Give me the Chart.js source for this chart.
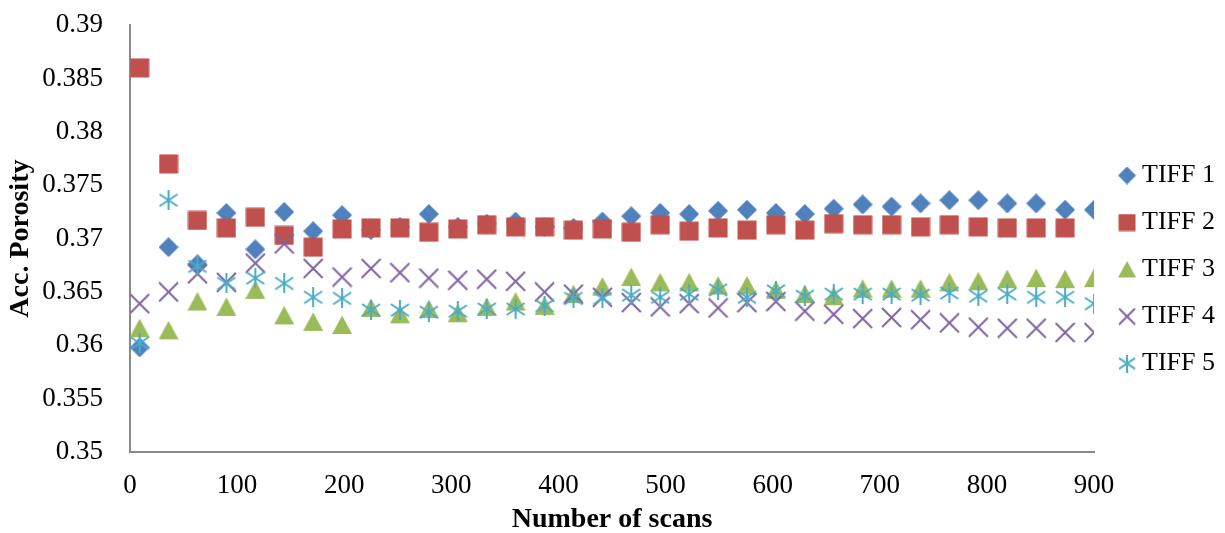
<!DOCTYPE html>
<html>
<head>
<meta charset="utf-8">
<script src="https://cdn.jsdelivr.net/npm/chart.js@4.4.0/dist/chart.umd.min.js"></script>
<style>
  html, body { margin: 0; padding: 0; background: #fff; }
</style>
</head>
<body>
<canvas id="porosityChart" width="1225" height="533"></canvas>
<script>
// Number of scans (x values)
const scans = [9, 36, 63, 90, 117, 144, 171, 198, 225, 252, 279, 306, 333, 360, 387, 414, 441,
               468, 495, 522, 549, 576, 603, 630, 657, 684, 711, 738, 765, 792, 819, 846, 873, 900];

// Accumulated porosity per TIFF stack
const tiff1 = [0.3598, 0.3692, 0.3676, 0.3724, 0.3690, 0.3725, 0.3707, 0.3722, 0.3708, 0.3711, 0.3723, 0.3711,
               0.3714, 0.3716, 0.3711, 0.3710, 0.3716, 0.3721, 0.3724, 0.3723, 0.3726, 0.3727, 0.3724, 0.3723,
               0.3728, 0.3732, 0.3730, 0.3733, 0.3736, 0.3736, 0.3733, 0.3733, 0.3727, 0.3727];
const tiff2 = [0.3860, 0.3770, 0.3717, 0.3710, 0.3720, 0.3703, 0.3692, 0.3709, 0.3710, 0.3710, 0.3706, 0.3709,
               0.3713, 0.3711, 0.3711, 0.3708, 0.3709, 0.3706, 0.3713, 0.3707, 0.3710, 0.3708, 0.3713, 0.3708,
               0.3714, 0.3713, 0.3713, 0.3711, 0.3713, 0.3711, 0.3710, 0.3710, 0.3710, null];
const tiff3 = [0.3616, 0.3614, 0.3641, 0.3636, 0.3652, 0.3628, 0.3622, 0.3619, 0.3635, 0.3629, 0.3634, 0.3630,
               0.3636, 0.3641, 0.3637, 0.3648, 0.3655, 0.3664, 0.3659, 0.3659, 0.3656, 0.3656, 0.3652, 0.3648,
               0.3646, 0.3653, 0.3653, 0.3653, 0.3659, 0.3660, 0.3662, 0.3663, 0.3662, 0.3663];
const tiff4 = [0.3639, 0.3650, 0.3667, 0.3659, 0.3677, 0.3695, 0.3672, 0.3664, 0.3672, 0.3668, 0.3663, 0.3661,
               0.3662, 0.3660, 0.3650, 0.3648, 0.3645, 0.3640, 0.3636, 0.3639, 0.3635, 0.3640, 0.3641, 0.3632,
               0.3629, 0.3625, 0.3626, 0.3624, 0.3621, 0.3617, 0.3616, 0.3616, 0.3612, 0.3612];
const tiff5 = [0.3602, 0.3736, 0.3674, 0.3658, 0.3663, 0.3658, 0.3645, 0.3644, 0.3633, 0.3633, 0.3631, 0.3632,
               0.3634, 0.3634, 0.3637, 0.3644, 0.3644, 0.3647, 0.3645, 0.3648, 0.3652, 0.3645, 0.3651, 0.3646,
               0.3648, 0.3648, 0.3648, 0.3647, 0.3649, 0.3646, 0.3648, 0.3645, 0.3645, 0.3639];

const seriesNames = ['TIFF 1', 'TIFF 2', 'TIFF 3', 'TIFF 4', 'TIFF 5'];
const seriesValues = [tiff1, tiff2, tiff3, tiff4, tiff5];
const seriesColors = ['#4F81BD', '#C0504D', '#9BBB59', '#8064A2', '#4BACC6'];
const seriesShapes = ['diamond', 'square', 'triangle', 'cross', 'asterisk'];

const yTicks = [0.35, 0.355, 0.36, 0.365, 0.37, 0.375, 0.38, 0.385, 0.39];

// small canvas sprites for the Excel style markers
// shift moves the shape right inside a wider sprite (used for the legend)
function makeMarker(shape, color, size, shift) {
    shift = shift || 0;
    const c = document.createElement('canvas');
    c.width = size + 2 * shift;
    c.height = size;
    const g = c.getContext('2d');
    g.translate(2 * shift, 0);
    const s = size, h = size / 2;
    g.fillStyle = color;
    g.strokeStyle = color;
    g.lineWidth = 2;
    g.beginPath();
    if (shape === 'diamond') {
        g.moveTo(h, 0); g.lineTo(s, h); g.lineTo(h, s); g.lineTo(0, h);
        g.closePath(); g.fill();
    } else if (shape === 'square') {
        g.fillRect(0.5, 0.5, s - 1, s - 1);
    } else if (shape === 'triangle') {
        g.moveTo(h, 0.5); g.lineTo(s, s - 1); g.lineTo(0, s - 1);
        g.closePath(); g.fill();
    } else if (shape === 'cross') {
        g.moveTo(1, 1); g.lineTo(s - 1, s - 1);
        g.moveTo(s - 1, 1); g.lineTo(1, s - 1);
        g.stroke();
    } else {
        g.moveTo(h, 0); g.lineTo(h, s);
        g.moveTo(1, s * 0.2); g.lineTo(s - 1, s * 0.8);
        g.moveTo(1, s * 0.8); g.lineTo(s - 1, s * 0.2);
        g.stroke();
    }
    return c;
}

const dataMarkers = seriesShapes.map((sh, i) => makeMarker(sh, seriesColors[i], sh === 'cross' ? 21 : 20));
const legendMarkers = seriesShapes.map((sh, i) => makeMarker(sh, seriesColors[i], 18, 5));

const datasets = seriesNames.map((name, i) => ({
    label: name,
    data: scans.map((x, j) => ({ x: x, y: seriesValues[i][j] })).filter(p => p.y !== null),
    pointStyle: dataMarkers[i],
    backgroundColor: seriesColors[i],
    borderColor: seriesColors[i],
    showLine: false,
    order: 5 - i // later series drawn on top, like Excel
}));

const serif = "'Liberation Serif', 'Times New Roman', serif";

const ctx = document.getElementById('porosityChart').getContext('2d');
const porosityChart = new Chart(ctx, {
    type: 'scatter',
    data: { datasets: datasets },
    options: {
        responsive: false,
        animation: false,
        layout: {
            padding: { top: 6, right: 0, bottom: 0, left: 0 }
        },
        scales: {
            x: {
                type: 'linear',
                min: 0,
                max: 900,
                ticks: {
                    stepSize: 100,
                    color: '#000',
                    font: { family: serif, size: 27 },
                    padding: 18,
                    maxRotation: 0
                },
                grid: { display: false, drawTicks: false },
                border: { display: true, color: '#8a8a8a', width: 2 },
                title: {
                    display: true,
                    text: 'Number of scans',
                    color: '#000',
                    font: { family: serif, size: 28, weight: 'bold' },
                    padding: { top: 0, bottom: -4 }
                },
                afterFit: scale => { scale.height = 81; }
            },
            y: {
                min: 0.35,
                max: 0.39,
                afterBuildTicks: scale => { scale.ticks = yTicks.map(v => ({ value: v })); },
                ticks: {
                    color: '#000',
                    font: { family: serif, size: 27 },
                    padding: 9,
                    callback: v => String(Number(v.toFixed(3)))
                },
                // hidden tick marks give the label gap without pushing the plot top down
                grid: { display: false, drawTicks: true, tickLength: 18 },
                border: { display: true, color: '#8a8a8a', width: 2 },
                title: {
                    display: true,
                    text: 'Acc. Porosity',
                    color: '#000',
                    font: { family: serif, size: 28, weight: 'bold' },
                    padding: { top: 4, bottom: 0 }
                },
                afterFit: scale => { scale.width = 130; }
            }
        },
        plugins: {
            legend: {
                position: 'right',
                labels: {
                    usePointStyle: true,
                    boxWidth: 14,
                    boxHeight: 14,
                    padding: 21,
                    color: '#000',
                    font: { family: serif, size: 26 },
                    generateLabels: chart => {
                        const items = Chart.defaults.plugins.legend.labels.generateLabels(chart);
                        items.sort((a, b) => a.datasetIndex - b.datasetIndex);
                        items.forEach(it => { it.pointStyle = legendMarkers[it.datasetIndex]; });
                        return items;
                    }
                }
            },
            tooltip: { enabled: false }
        }
    }
});
</script>
</body>
</html>
